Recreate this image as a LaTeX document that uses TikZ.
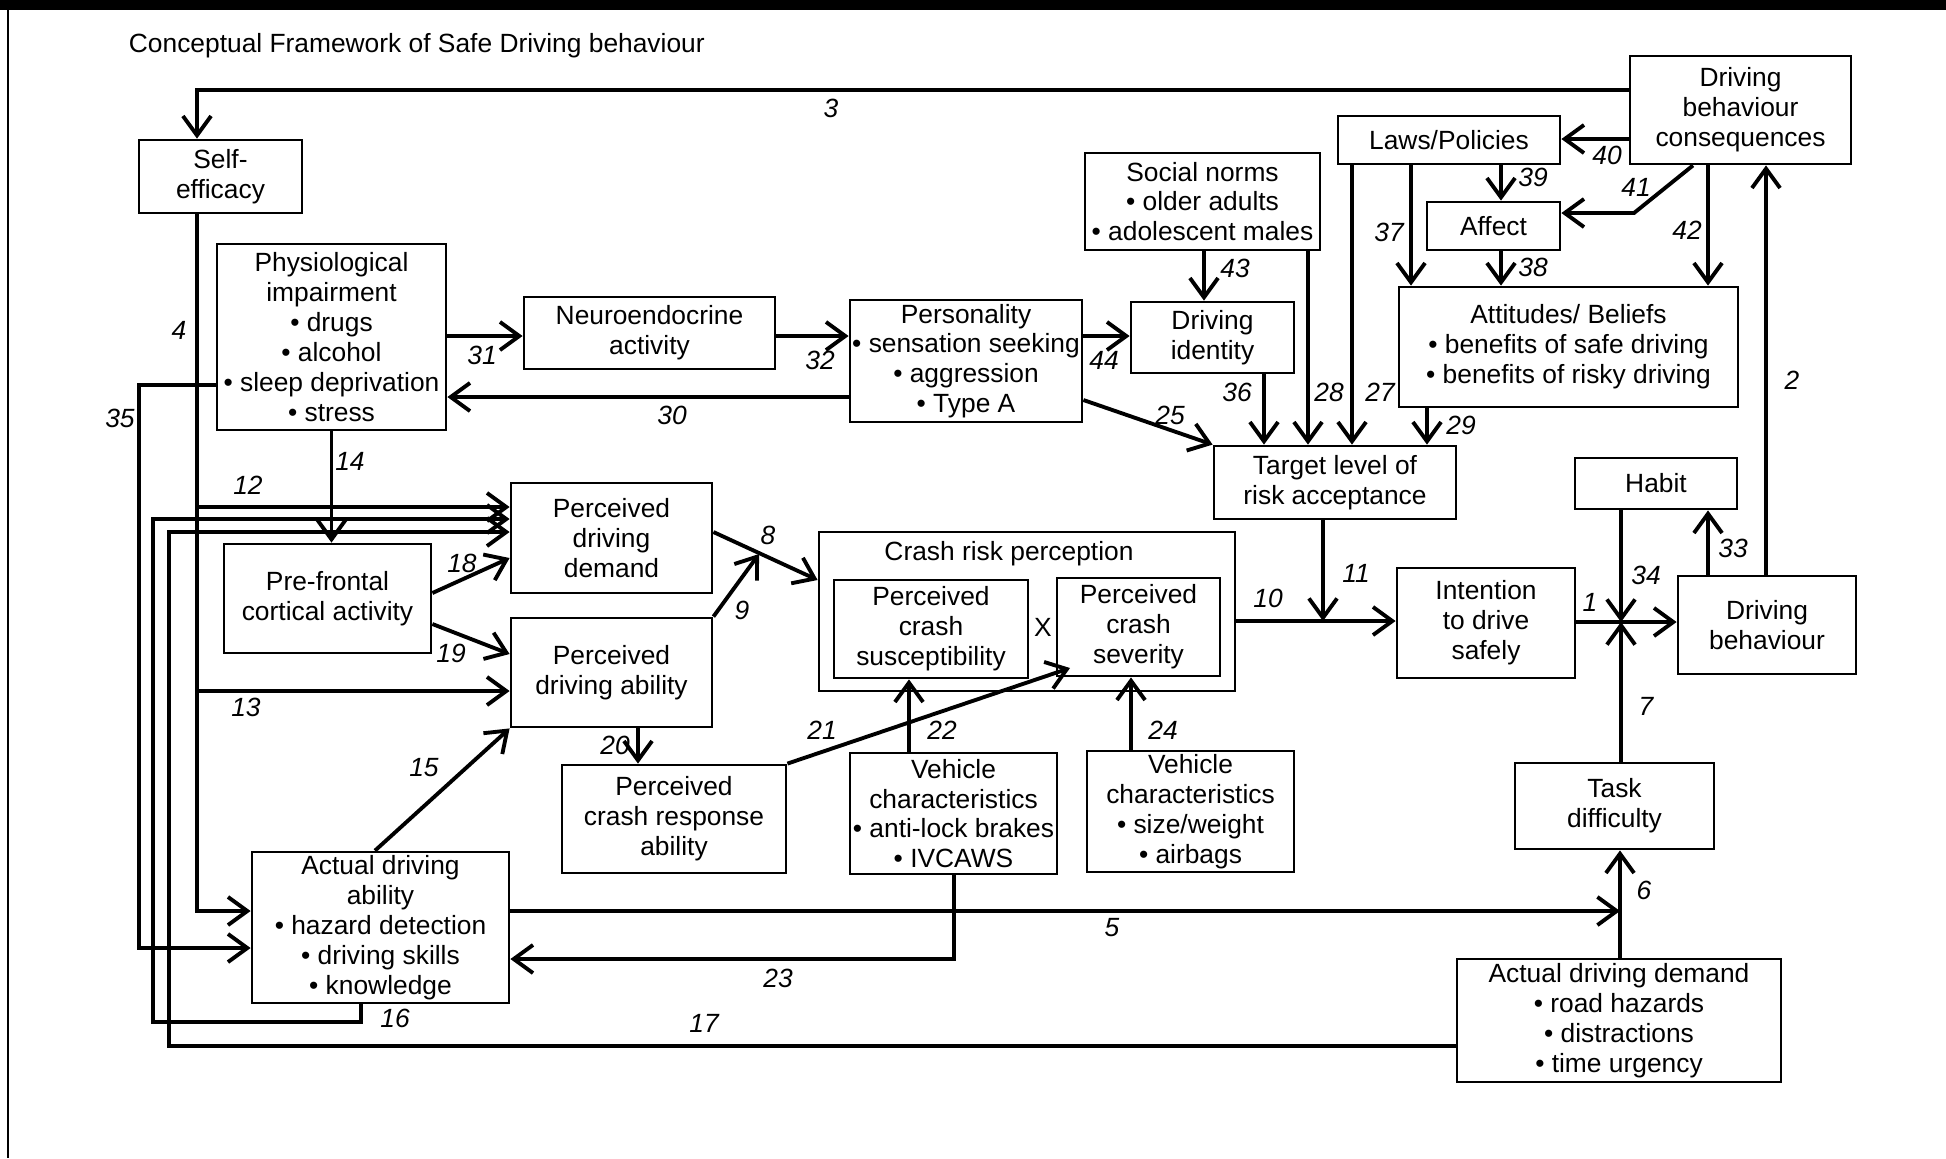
\documentclass[tikz,border=0pt]{standalone}
\usepackage{fontspec}
\setmainfont{Liberation Sans}
\usetikzlibrary{arrows.meta}

\tikzset{
    box/.style={draw, line width=0.8pt, inner sep=0pt, align=center},
    num/.style={font=\fontsize{7.5}{8.5}\selectfont\itshape, inner sep=0pt}
}

\begin{document}
\begin{tikzpicture}[x=0.1mm, y=-0.1mm, >={Straight Barb[length=5.5pt,width=8pt]}, line width=1.1pt,
    font=\fontsize{7.5}{8.5}\selectfont]
    \useasboundingbox (0,0) rectangle (1946,1158);

    % Frame and title
    \fill (0,0) rectangle (1946,10);
    \draw[line width=0.6pt] (8,10) -- (8,1158);
    \node[anchor=west, inner sep=0pt] (title) at (127,46) {Conceptual Framework of Safe Driving behaviour};

    % Left column
    \node[box, minimum width=16.3mm, minimum height=7.3mm] (se) at (220.5,176.5) {Self-\\efficacy};
    \node[box, minimum width=22.9mm, minimum height=18.6mm] (phys) at (331.5,337)
        {Physiological\\impairment\\• drugs\\• alcohol\\• sleep deprivation\\• stress};
    \node[box, minimum width=20.7mm, minimum height=10.9mm] (pfc) at (327.5,598.5) {Pre-frontal\\cortical activity};
    \node[box, minimum width=25.7mm, minimum height=15.1mm] (ada) at (380.5,927.5)
        {Actual driving\\ability\\• hazard detection\\• driving skills\\• knowledge};

    % Middle
    \node[box, minimum width=25.1mm, minimum height=7.2mm] (neuro) at (649.5,333) {Neuroendocrine\\activity};
    \node[box, minimum width=23.2mm, minimum height=12.2mm] (pers) at (966,361)
        {Personality\\• sensation seeking\\• aggression\\• Type A};
    \node[box, minimum width=20.1mm, minimum height=11.0mm] (pdd) at (611.5,538) {Perceived\\driving\\demand};
    \node[box, minimum width=20.1mm, minimum height=10.9mm] (pda) at (611.5,672.5) {Perceived\\driving ability};
    \node[box, minimum width=22.4mm, minimum height=10.8mm] (pcra) at (674,819) {Perceived\\crash response\\ability};

    % Crash risk perception
    \node[box, minimum width=41.6mm, minimum height=15.9mm] (crp) at (1027,611.5) {};
    \node (crptitle) at (1009,554) {Crash risk perception};
    \node[box, minimum width=19.4mm, minimum height=9.8mm] (pcs) at (931,629) {Perceived\\crash\\susceptibility};
    \node[box, minimum width=16.3mm, minimum height=9.8mm] (psev) at (1138.5,627) {Perceived\\crash\\severity};
    \node (times) at (1043,627) {X};
    \node[box, minimum width=20.7mm, minimum height=12.1mm] (vc1) at (953.5,813.5)
        {Vehicle\\characteristics\\• anti-lock brakes\\• IVCAWS};
    \node[box, minimum width=20.7mm, minimum height=12.1mm] (vc2) at (1190.5,811.5)
        {Vehicle\\characteristics\\• size/weight\\• airbags};

    % Upper right
    \node[box, minimum width=23.5mm, minimum height=9.7mm] (social) at (1202.5,201.5)
        {Social norms\\• older adults\\• adolescent males};
    \node[box, minimum width=16.3mm, minimum height=7.1mm] (did) at (1212.5,337.5) {Driving\\identity};
    \node[box, minimum width=22.2mm, minimum height=4.8mm] (laws) at (1449,140) {Laws/Policies};
    \node[box, minimum width=22.1mm, minimum height=10.8mm] (dbc) at (1740.5,110) {Driving\\behaviour\\consequences};
    \node[box, minimum width=13.3mm, minimum height=4.8mm] (affect) at (1493.5,226) {Affect};
    \node[box, minimum width=33.9mm, minimum height=12.0mm] (att) at (1568.5,347)
        {Attitudes/ Beliefs\\• benefits of safe driving\\• benefits of risky driving};
    \node[box, minimum width=24.2mm, minimum height=7.3mm] (target) at (1335,482.5) {Target level of\\risk acceptance};

    % Lower right
    \node[box, minimum width=16.2mm, minimum height=5.1mm] (habit) at (1656,483.5) {Habit};
    \node[box, minimum width=17.8mm, minimum height=11.0mm] (intent) at (1486,623) {Intention\\to drive\\safely};
    \node[box, minimum width=17.8mm, minimum height=9.8mm] (db) at (1767,625) {Driving\\behaviour};
    \node[box, minimum width=19.9mm, minimum height=8.6mm] (task) at (1614.5,806) {Task\\difficulty};
    \node[box, minimum width=32.4mm, minimum height=12.3mm] (add) at (1619,1020.5)
        {Actual driving demand\\• road hazards\\• distractions\\• time urgency};

    % Junctions
    \coordinate (j1) at (1621,622);
    \coordinate (j5) at (1620,911);
    \coordinate (j9) at (759,554);
    \coordinate (j11) at (1323,621);

    % Arrows, left side
    \draw[->] (dbc.west |- 0,90) -| (se.north -| 197,0);
    \draw[->] (se.south -| 197,0) |- (ada.west |- 0,911);
    \draw[->] (197,507) -- (pdd.west |- 0,507);
    \draw[->] (197,691) -- (pda.west |- 0,691);
    \draw[->] (phys.west |- 0,385) -- (139,385) |- (ada.west |- 0,948);
    \draw[->] (ada.south -| 361,0) -- (361,1022) -| (153,519) -- (pdd.west |- 0,519);
    \draw[->] (add.west |- 0,1046) -| (169,532) -- (pdd.west |- 0,532);
    \draw[->] (phys.south) -- (phys.south |- pfc.north);
    \draw[->] (pfc.east |- 0,593) -- (pdd.west |- 0,558);
    \draw[->] (pfc.east |- 0,624) -- (pda.west |- 0,654);
    \draw[->] (ada.north -| 375,0) -- (pda.south west);
    \draw[->] (pda.south -| 638,0) -- (pcra.north -| 638,0);

    % Arrows, middle
    \draw[->] (phys.east |- 0,336) -- (neuro.west |- 0,336);
    \draw[->] (neuro.east |- 0,336) -- (pers.west |- 0,336);
    \draw[->] (pers.west |- 0,397) -- (phys.east |- 0,397);
    \draw[->] (pers.east |- 0,336) -- (did.west |- 0,336);
    \draw[->] (pers.east |- 0,400) -- (target.north west);
    \draw[->] (pdd.east |- 0,532) -- (crp.west |- 0,580);
    \draw[->] (pda.north east) -- (j9);
    \draw[->] (pcra.north east) -- (1070,668);
    \draw[->] (vc1.north -| 909,0) -- (pcs.south -| 909,0);
    \draw[->] (vc2.north -| 1131,0) -- (psev.south -| 1131,0);
    \draw[->] (vc1.south -| 954,0) |- (ada.east |- 0,959);
    \draw[->] (ada.east |- 0,911) -- (j5);
    \draw[->] (add.north -| j5) -- (task.south -| j5);

    % Arrows, right side
    \draw[->] (social.south -| 1204,0) -- (did.north -| 1204,0);
    \draw[->] (did.south -| 1264,0) -- (target.north -| 1264,0);
    \draw[->] (social.south -| 1308,0) -- (target.north -| 1308,0);
    \draw[->] (laws.south -| 1352,0) -- (target.north -| 1352,0);
    \draw[->] (laws.south -| 1411,0) -- (att.north -| 1411,0);
    \draw[->] (laws.south -| 1501,0) -- (affect.north -| 1501,0);
    \draw[->] (affect.south -| 1501,0) -- (att.north -| 1501,0);
    \draw[->] (att.south -| 1427,0) -- (target.north -| 1427,0);
    \draw[->] (dbc.west |- 0,139) -- (laws.east |- 0,139);
    \draw[->] (dbc.south -| 1693,0) -- (1634,213) -- (affect.east |- 0,213);
    \draw[->] (dbc.south -| 1708,0) -- (att.north -| 1708,0);
    \draw[->] (crp.east |- j11) -- (intent.west |- j11);
    \draw[->] (target.south -| j11) -- (j11);
    \draw[->] (intent.east |- j1) -- (db.west |- j1);
    \draw[->] (habit.south -| j1) -- (j1);
    \draw[->] (task.north -| j1) -- (j1);
    \draw[->] (db.north -| 1708,0) -- (habit.south -| 1708,0);
    \draw[->] (db.north -| 1766,0) -- (dbc.south -| 1766,0);

    % Path numbers
    \foreach \n/\x/\y in {1/1590/602, 2/1792/380, 3/831/108, 4/179/330, 5/1112/928,
        6/1644/890, 7/1646/706, 8/768/535, 9/742/610, 10/1268/598, 11/1356/573,
        12/248/485, 13/246/707, 14/350/461, 15/424/768, 16/395/1018, 17/704/1023,
        18/462/563, 19/451/653, 20/615/745, 21/822/730, 22/942/730, 23/778/978,
        24/1163/730, 25/1170/415, 27/1380/392, 28/1329/392, 29/1461/425,
        30/672/415, 31/482/355, 32/820/360, 33/1733/548, 34/1646/575,
        35/120/418, 36/1237/392, 37/1389/232, 38/1533/267, 39/1533/177,
        40/1607/155, 41/1636/187, 42/1687/230, 43/1235/268, 44/1104/360}
        \node[num] (n\n) at (\x,\y) {\n};
\end{tikzpicture}
\end{document}
